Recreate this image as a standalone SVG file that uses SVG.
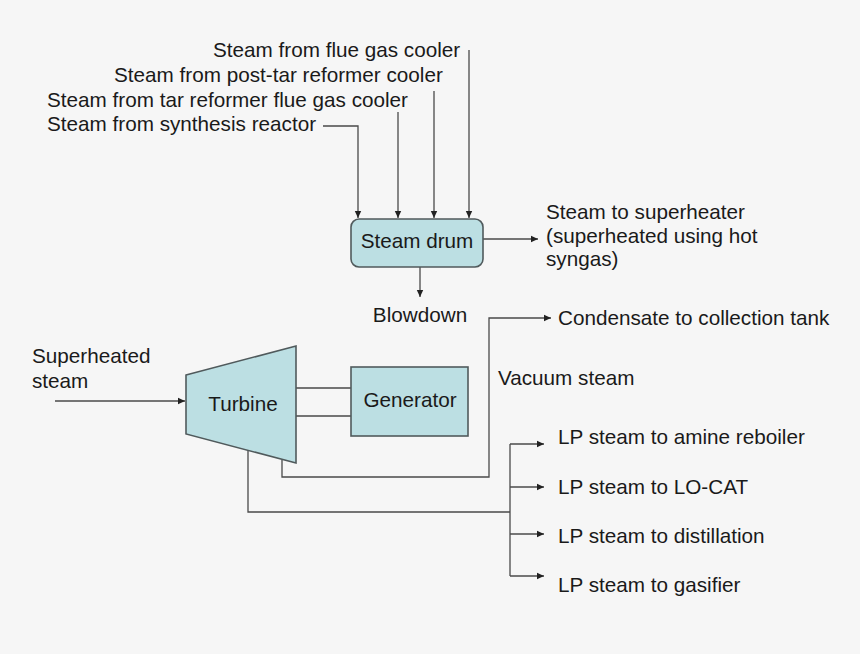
<svg xmlns="http://www.w3.org/2000/svg" width="860" height="654" viewBox="0 0 860 654">
<defs>
<marker id="ah" markerWidth="8" markerHeight="8" refX="7" refY="4" orient="auto" markerUnits="userSpaceOnUse">
<path d="M0,0.8 L7,4 L0,7.2 Z" fill="#222"/>
</marker>
<style>
text{font-family:"Liberation Sans",Arial,sans-serif;font-size:20.7px;fill:#1a1a1a}
.c{text-anchor:middle}
.ln{fill:none;stroke:#4a4a4a;stroke-width:1.3}
.ar{fill:none;stroke:#4a4a4a;stroke-width:1.3;marker-end:url(#ah)}
.box{fill:#bcdfe3;stroke:#505a5c;stroke-width:1.6}
</style>
</defs>
<rect width="860" height="654" fill="#f6f6f6"/>
<g id="labels">
<text x="213" y="57">Steam from flue gas cooler</text>
<text x="114" y="82">Steam from post-tar reformer cooler</text>
<text x="47" y="107">Steam from tar reformer flue gas cooler</text>
<text x="47" y="131">Steam from synthesis reactor</text>
<text x="546" y="219">Steam to superheater</text>
<text x="546" y="243">(superheated using hot</text>
<text x="546" y="266">syngas)</text>
<text x="420" y="322" class="c">Blowdown</text>
<text x="558" y="325">Condensate to collection tank</text>
<text x="32" y="363">Superheated</text>
<text x="32" y="388">steam</text>
<text x="498" y="385">Vacuum steam</text>
<text x="558" y="444">LP steam to amine reboiler</text>
<text x="558" y="494">LP steam to LO-CAT</text>
<text x="558" y="543">LP steam to distillation</text>
<text x="558" y="592">LP steam to gasifier</text>
</g>
<g id="connectors">
<path class="ar" d="M469,50 V218"/>
<path class="ar" d="M434,91 V218"/>
<path class="ar" d="M398,112 V218"/>
<path class="ar" d="M323,126 H358 V218"/>
<path class="ar" d="M483,239 H538"/>
<path class="ar" d="M420,267 V297"/>
<path class="ar" d="M55,401 H185"/>
<path class="ln" d="M296,388 H351 M296,416 H351"/>
<path class="ar" d="M282,460 V477 H489 V318 H551"/>
<path class="ln" d="M248,450 V512 H510"/>
<path class="ln" d="M510,444 V576"/>
<path class="ar" d="M510,444 H544"/>
<path class="ar" d="M510,487 H544"/>
<path class="ar" d="M510,534 H544"/>
<path class="ar" d="M510,576 H544"/>
</g>
<g id="steam-drum">
<rect class="box" x="351" y="219" width="132" height="48" rx="8"/>
<text x="417" y="248" class="c">Steam drum</text>
</g>
<g id="turbine">
<polygon class="box" points="186,375 296,346 296,463 186,434"/>
<text x="243" y="411" class="c">Turbine</text>
</g>
<g id="generator">
<rect class="box" x="351" y="367" width="117" height="69"/>
<text x="410" y="407" class="c">Generator</text>
</g>
</svg>
